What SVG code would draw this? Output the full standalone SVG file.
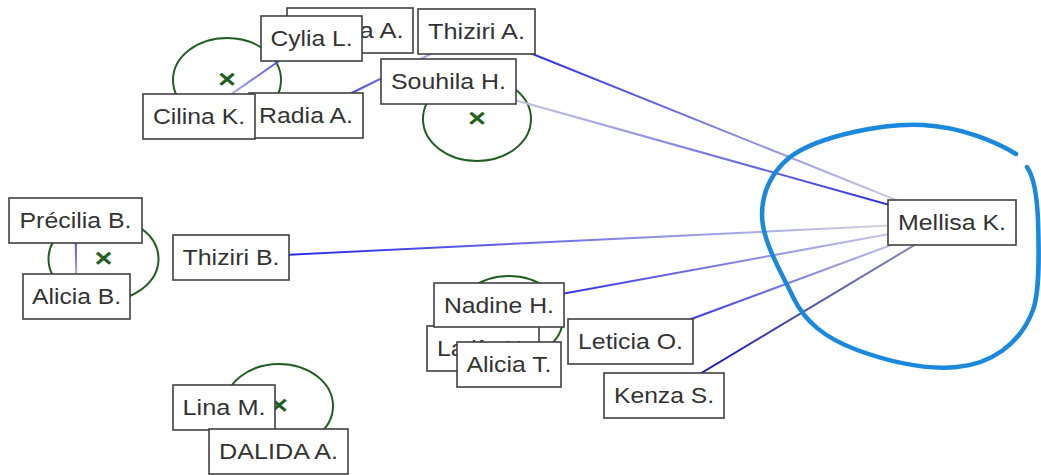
<svg xmlns="http://www.w3.org/2000/svg" width="1041" height="475" viewBox="0 0 1041 475">
<style>
.node rect{fill:#fff;stroke:#404040;stroke-width:1.6}
.node text{font-family:"Liberation Sans",Arial,sans-serif;font-size:22px;fill:#333;text-anchor:middle}
.hull{fill:none;stroke:#1f5f1f;stroke-width:2}
.mark{font-family:"Liberation Sans",Arial,sans-serif;font-weight:bold;font-size:26px;fill:#1f5f1f;text-anchor:middle}
.edge{fill:none;stroke-width:2}
.blob{fill:none;stroke:#1a88dc;stroke-width:4.5;stroke-linecap:round;stroke-linejoin:round}
</style>
<defs>
<linearGradient id="gA" gradientUnits="userSpaceOnUse" x1="476.5" y1="31.5" x2="952" y2="222.5"><stop offset="0" stop-color="#1515e8"/><stop offset="1" stop-color="#e4e4e4"/></linearGradient>
<linearGradient id="gS" gradientUnits="userSpaceOnUse" x1="952" y1="222.5" x2="448.5" y2="81.5"><stop offset="0" stop-color="#1515e8"/><stop offset="1" stop-color="#e4e4e4"/></linearGradient>
<linearGradient id="gB" gradientUnits="userSpaceOnUse" x1="231" y1="257.5" x2="952" y2="222.5"><stop offset="0" stop-color="#1515e8"/><stop offset="1" stop-color="#e4e4e4"/></linearGradient>
<linearGradient id="gN" gradientUnits="userSpaceOnUse" x1="499" y1="305.5" x2="952" y2="222.5"><stop offset="0" stop-color="#1515e8"/><stop offset="1" stop-color="#e4e4e4"/></linearGradient>
<linearGradient id="gL" gradientUnits="userSpaceOnUse" x1="630.5" y1="341.5" x2="952" y2="222.5"><stop offset="0" stop-color="#1515e8"/><stop offset="1" stop-color="#e4e4e4"/></linearGradient>
<linearGradient id="gK" gradientUnits="userSpaceOnUse" x1="664" y1="395.5" x2="952" y2="222.5"><stop offset="0" stop-color="#0000b8"/><stop offset="1" stop-color="#9a9aae"/></linearGradient>
<linearGradient id="gC" gradientUnits="userSpaceOnUse" x1="311.5" y1="38.5" x2="199" y2="116.5"><stop offset="0" stop-color="#1515e8"/><stop offset="1" stop-color="#e4e4e4"/></linearGradient>
<linearGradient id="gR" gradientUnits="userSpaceOnUse" x1="306" y1="115.5" x2="476.5" y2="31.5"><stop offset="0" stop-color="#1515e8"/><stop offset="1" stop-color="#e4e4e4"/></linearGradient>
<linearGradient id="gP" gradientUnits="userSpaceOnUse" x1="75.5" y1="220.5" x2="76.5" y2="296.5"><stop offset="0" stop-color="#1515e8"/><stop offset="1" stop-color="#e4e4e4"/></linearGradient>
</defs>
<g id="clusters">
<g id="cluster-1"><ellipse class="hull" cx="227" cy="80" rx="54" ry="42"/><text class="mark" x="227" y="88" textLength="18" lengthAdjust="spacingAndGlyphs">×</text></g>
<g id="cluster-2"><ellipse class="hull" cx="477" cy="119" rx="54" ry="42"/><text class="mark" x="477" y="127" textLength="18" lengthAdjust="spacingAndGlyphs">×</text></g>
<g id="cluster-3"><ellipse class="hull" cx="103.5" cy="259" rx="55" ry="42"/><text class="mark" x="103.5" y="267" textLength="18" lengthAdjust="spacingAndGlyphs">×</text></g>
<g id="cluster-4"><ellipse class="hull" cx="279" cy="406" rx="54" ry="42"/><text class="mark" x="279" y="414" textLength="18" lengthAdjust="spacingAndGlyphs">×</text></g>
<g id="cluster-5"><ellipse class="hull" cx="509" cy="318" rx="54" ry="42"/></g>
</g>
<g id="connectors">
<line class="edge" x1="476.5" y1="31.5" x2="952" y2="222.5" stroke="url(#gA)"/>
<line class="edge" x1="952" y1="222.5" x2="448.5" y2="81.5" stroke="url(#gS)"/>
<line class="edge" x1="231" y1="257.5" x2="952" y2="222.5" stroke="url(#gB)"/>
<line class="edge" x1="499" y1="305.5" x2="952" y2="222.5" stroke="url(#gN)"/>
<line class="edge" x1="630.5" y1="341.5" x2="952" y2="222.5" stroke="url(#gL)"/>
<line class="edge" x1="664" y1="395.5" x2="952" y2="222.5" stroke="url(#gK)" stroke-width="2.6"/>
<line class="edge" x1="311.5" y1="38.5" x2="199" y2="116.5" stroke="url(#gC)"/>
<line class="edge" x1="306" y1="115.5" x2="476.5" y2="31.5" stroke="url(#gR)"/>
<line class="edge" x1="75.5" y1="220.5" x2="76.5" y2="296.5" stroke="url(#gP)"/>
</g>
<g id="mellisa-hull">
<path class="blob" d="M1016,154 C995,141 960,127 923,125 C886,123 820,135 790,157 C772,172 762,192 762,215 C762,240 780,270 793,297 C805,322 825,338 857,350 C890,362 925,370 957,367 C990,364 1020,345 1033,310 C1040,291 1039,250 1038,220 C1037,195 1034,177 1027,167"/>
</g>
<g id="node-hidden-a" class="node"><rect x="287" y="8" width="126" height="45"/><text x="403.5" y="37.5" style="text-anchor:end" textLength="44" lengthAdjust="spacingAndGlyphs">a A.</text></g>
<g id="node-cylia" class="node"><rect x="261" y="16" width="101" height="45"/><text x="311.5" y="45.5" textLength="82" lengthAdjust="spacingAndGlyphs">Cylia L.</text></g>
<g id="node-thiziri-a" class="node"><rect x="418" y="9" width="117" height="45"/><text x="476.5" y="38.5" textLength="97" lengthAdjust="spacingAndGlyphs">Thiziri A.</text></g>
<g id="node-souhila" class="node"><rect x="381" y="59" width="135" height="45"/><text x="448.5" y="88.5" textLength="115" lengthAdjust="spacingAndGlyphs">Souhila H.</text></g>
<g id="node-radia" class="node"><rect x="249" y="93" width="114" height="45"/><text x="306" y="122.5" textLength="94" lengthAdjust="spacingAndGlyphs">Radia A.</text></g>
<g id="node-cilina" class="node"><rect x="143" y="94" width="112" height="45"/><text x="199" y="123.5" textLength="92" lengthAdjust="spacingAndGlyphs">Cilina K.</text></g>
<g id="node-precilia" class="node"><rect x="9" y="198" width="133" height="45"/><text x="75.5" y="227.5" textLength="112" lengthAdjust="spacingAndGlyphs">Précilia B.</text></g>
<g id="node-alicia-b" class="node"><rect x="23" y="274" width="107" height="45"/><text x="76.5" y="303.5" textLength="89" lengthAdjust="spacingAndGlyphs">Alicia B.</text></g>
<g id="node-thiziri-b" class="node"><rect x="173" y="235" width="116" height="45"/><text x="231" y="264.5" textLength="97" lengthAdjust="spacingAndGlyphs">Thiziri B.</text></g>
<g id="node-mellisa" class="node"><rect x="888" y="200" width="128" height="45"/><text x="952" y="229.5" textLength="108" lengthAdjust="spacingAndGlyphs">Mellisa K.</text></g>
<g id="node-latifa" class="node"><rect x="427" y="326" width="112" height="45"/><text x="483" y="355.5" textLength="92" lengthAdjust="spacingAndGlyphs">Latifa H.</text></g>
<g id="node-nadine" class="node"><rect x="434" y="283" width="130" height="44"/><text x="499" y="312.5" textLength="110" lengthAdjust="spacingAndGlyphs">Nadine H.</text></g>
<g id="node-alicia-t" class="node"><rect x="457" y="342" width="104" height="45"/><text x="509" y="371.5" textLength="85" lengthAdjust="spacingAndGlyphs">Alicia T.</text></g>
<g id="node-leticia" class="node"><rect x="568" y="319" width="125" height="45"/><text x="630.5" y="348.5" textLength="105" lengthAdjust="spacingAndGlyphs">Leticia O.</text></g>
<g id="node-kenza" class="node"><rect x="604" y="373" width="120" height="45"/><text x="664" y="402.5" textLength="100" lengthAdjust="spacingAndGlyphs">Kenza S.</text></g>
<g id="node-lina" class="node"><rect x="173" y="385" width="102" height="45"/><text x="224" y="414.5" textLength="83" lengthAdjust="spacingAndGlyphs">Lina M.</text></g>
<g id="node-dalida" class="node"><rect x="209" y="429" width="139" height="45"/><text x="278.5" y="458.5" textLength="119" lengthAdjust="spacingAndGlyphs">DALIDA A.</text></g>
</svg>
